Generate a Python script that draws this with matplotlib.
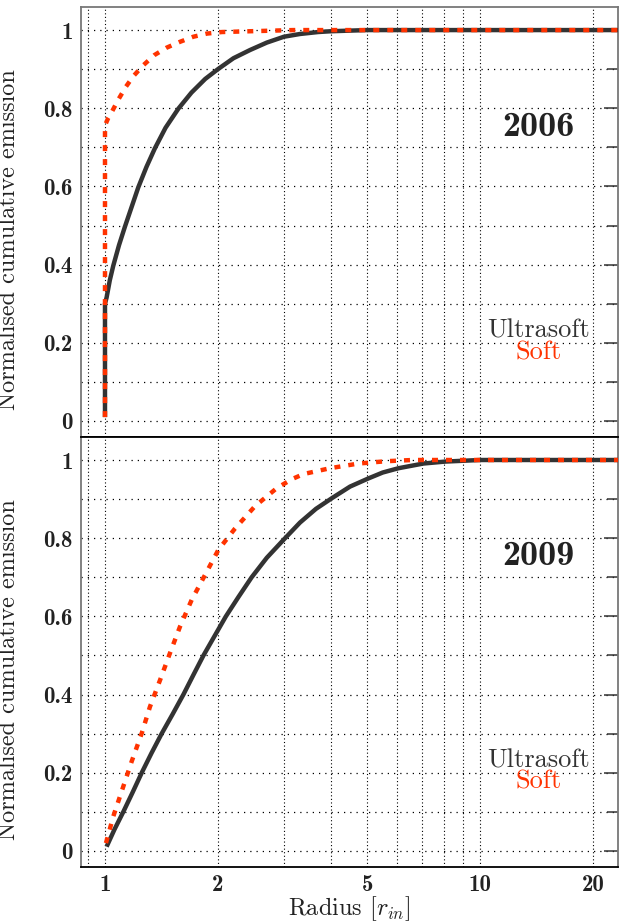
import numpy as np
import matplotlib
matplotlib.use('Agg')
import matplotlib.pyplot as plt
from matplotlib.ticker import FixedLocator, FixedFormatter, LogLocator, MultipleLocator, NullFormatter

plt.rcParams['mathtext.fontset'] = 'cm'
plt.rcParams['axes.unicode_minus'] = False

# 2006 panel
r06_us = [1.0, 1.0, 1.01, 1.03, 1.052, 1.09, 1.131, 1.18, 1.227, 1.29, 1.359, 1.45, 1.569, 1.7, 1.85, 2.0,
          2.2, 2.436, 2.7, 3.0, 3.31, 3.7, 4.0, 5.0, 23.3]
e06_us = [0.01, 0.30, 0.316, 0.36, 0.397, 0.45, 0.498, 0.55, 0.598, 0.65, 0.698, 0.75, 0.799, 0.84, 0.875, 0.90,
          0.928, 0.949, 0.968, 0.983, 0.99, 0.995, 0.997, 1.0, 1.0]
r06_s = [1.0, 1.0, 1.02, 1.042, 1.085, 1.137, 1.19, 1.265, 1.354, 1.46, 1.585, 1.72, 1.87, 2.05, 2.44, 3.17, 23.3]
e06_s = [0.01, 0.756, 0.775, 0.79, 0.822, 0.855, 0.882, 0.91, 0.936, 0.955, 0.97, 0.983, 0.991, 0.995, 0.997, 1.0, 1.0]

# 2009 panel
r09_us = [1.01, 1.06, 1.119, 1.185, 1.253, 1.33, 1.416, 1.515, 1.618, 1.72, 1.83, 1.96, 2.10, 2.27, 2.46, 2.70,
          3.0, 3.31, 3.65, 4.02, 4.5, 5.04, 5.5, 6.06, 7.06, 8.08, 10.0, 23.3]
e09_us = [0.011, 0.055, 0.10, 0.15, 0.20, 0.25, 0.30, 0.35, 0.40, 0.45, 0.50, 0.55, 0.60, 0.65, 0.70, 0.75,
          0.797, 0.84, 0.875, 0.902, 0.932, 0.953, 0.968, 0.979, 0.991, 0.996, 1.0, 1.0]
r09_s = [1.006, 1.052, 1.119, 1.178, 1.253, 1.318, 1.402, 1.49, 1.585, 1.702, 1.848, 2.005, 2.222, 2.512, 2.87,
         3.15, 3.38, 3.98, 4.74, 5.64, 6.6, 23.3]
e09_s = [0.02, 0.088, 0.165, 0.229, 0.301, 0.369, 0.437, 0.506, 0.574, 0.642, 0.706, 0.77, 0.825, 0.882, 0.928,
         0.951, 0.964, 0.979, 0.991, 0.997, 1.0, 1.0]

years = ['2006', '2009']
xticks = [1, 2, 5, 10, 20]
xticklabels = ['1', '2', '5', '10', '20']
yticks = [0, 0.2, 0.4, 0.6, 0.8, 1.0]
yticklabels = ['0', '0.2', '0.4', '0.6', '0.8', '1']

c_us = '#333333'
c_s = '#ff3300'

fig = plt.figure(figsize=(6.22, 9.22), dpi=100)
ax1 = fig.add_axes([0.1302, 0.526, 0.8633, 0.4664])
ax2 = fig.add_axes([0.1302, 0.0597, 0.8633, 0.4664])

data = [(r06_us, e06_us, r06_s, e06_s), (r09_us, e09_us, r09_s, e09_s)]

for i, ax in enumerate([ax1, ax2]):
    rus, eus, rs, es = data[i]
    ax.plot(rus, eus, color=c_us, lw=3.2, solid_capstyle='butt', solid_joinstyle='round', zorder=3)
    ln, = ax.plot(rs, es, color=c_s, lw=3.2, zorder=4)
    ln.set_dashes([1.35, 1.8])

    ax.set_xscale('log')
    ax.set_xlim(0.863, 23.3)
    ax.set_ylim(-0.041, 1.059)

    ax.xaxis.set_major_locator(FixedLocator(xticks))
    ax.xaxis.set_minor_locator(LogLocator(base=10, subs=np.arange(1, 10)))
    ax.xaxis.set_minor_formatter(NullFormatter())
    if i == 1:
        ax.xaxis.set_major_formatter(FixedFormatter(xticklabels))
    else:
        ax.xaxis.set_major_formatter(NullFormatter())
    ax.yaxis.set_major_locator(FixedLocator(yticks))
    ax.yaxis.set_major_formatter(FixedFormatter(yticklabels))
    ax.yaxis.set_minor_locator(MultipleLocator(0.1))

    ax.grid(which='both', axis='x', color='black', lw=0.8, linestyle=(0, (1, 2.2)))
    ax.grid(which='both', axis='y', color='black', lw=0.9, linestyle=(0, (1, 4)))
    ax.set_axisbelow(True)

    ax.tick_params(axis='x', which='both', length=0, pad=5)
    ax.tick_params(axis='y', which='both', left=False, right=True, direction='in', pad=6)
    ax.tick_params(axis='y', which='major', length=10, width=1.1, color='#333333')
    ax.tick_params(axis='y', which='minor', length=8, width=1.1, color='#333333')
    for lab in ax.get_xticklabels() + ax.get_yticklabels():
        lab.set_fontfamily('cmb10')
        lab.set_fontsize(16.5)
        lab.set_color('#222222')

    for s in ['left', 'right', 'top']:
        ax.spines[s].set_color('#777777')
        ax.spines[s].set_linewidth(1.3)
    ax.spines['bottom'].set_color('black')
    ax.spines['bottom'].set_linewidth(1.3)

    ax.set_ylabel('Normalised cumulative emission', fontfamily='cmr10', fontsize=17.5, color='#222222')
    ax.yaxis.set_label_coords(-0.113, 0.46)

    ax.text(14.3, 0.752, years[i], fontfamily='cmb10', fontsize=26, color='#222222',
            ha='center', va='center')
    ax.text(14.3, 0.232, 'Ultrasoft', fontfamily='cmr10', fontsize=19, color=c_us,
            ha='center', va='center')
    ax.text(14.3, 0.176, 'Soft', fontfamily='cmr10', fontsize=19, color=c_s,
            ha='center', va='center')

ax2.spines['top'].set_color('black')
ax2.set_xlabel(r'Radius [$r_{in}$]', fontfamily='cmr10', fontsize=17.5, color='#222222')
ax2.xaxis.set_label_coords(0.5, -0.064)

fig.savefig('out.png', dpi=100)
